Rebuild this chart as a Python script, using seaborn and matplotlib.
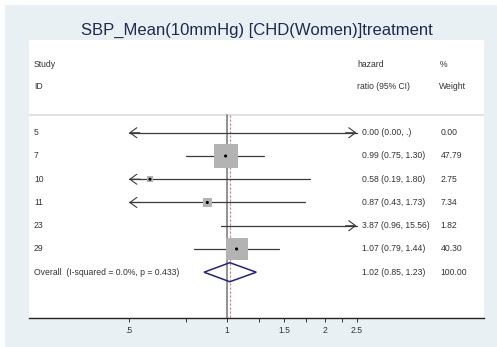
import numpy as np
import pandas as pd
import matplotlib
matplotlib.use("Agg")
import matplotlib.pyplot as plt
from matplotlib.patches import Rectangle, Polygon
from matplotlib.ticker import FixedLocator, NullLocator
import seaborn as sns

# Study-level estimates (hazard ratio, 95% CI, weight %)
study_ids = ["5", "7", "10", "11", "23", "29"]
hazard_ratio = [0.00, 0.99, 0.58, 0.87, 3.87, 1.07]
ci_low = [0.00, 0.75, 0.19, 0.43, 0.96, 0.79]
ci_high = [np.nan, 1.30, 1.80, 1.73, 15.56, 1.44]
weight_pct = [0.00, 47.79, 2.75, 7.34, 1.82, 40.30]

# Pooled estimate
overall_label = "Overall  (I-squared = 0.0%, p = 0.433)"
overall_hr = 1.02
overall_low = 0.85
overall_high = 1.23
overall_weight = 100.00

# Axis ticks
tick_values = [0.5, 0.75, 1, 1.25, 1.5, 1.75, 2, 2.25, 2.5]
tick_labels = [".5", "", "1", "", "1.5", "", "2", "", "2.5"]

title = "SBP_Mean(10mmHg) [CHD(Women)]treatment"

sns.set_style("white")
plt.rcParams["font.family"] = ["Liberation Sans", "DejaVu Sans"]

W, H = 497, 347
bg = "#e9f0f3"
fig = plt.figure(figsize=(W / 100, H / 100), dpi=100)
fig.patch.set_facecolor(bg)
# thin white margin along the top and left edges
fig.patches.append(Rectangle((0, (H - 5) / H), 1, 5 / H, transform=fig.transFigure,
                             facecolor="white", edgecolor="none", zorder=-5))
fig.patches.append(Rectangle((0, 0), 5 / W, 1, transform=fig.transFigure,
                             facecolor="white", edgecolor="none", zorder=-5))

ax = fig.add_axes([29 / W, (H - 318) / H, 455 / W, (318 - 40) / H])
ax.set_facecolor("white")

# log-scaled effect axis; plotting window 0.5 .. 2.5
ax.set_xscale("log")
ax.set_xlim(0.2465, 6.157)
ax.set_ylim(7.97, -3.99)
clip_lo, clip_hi = 0.5, 2.5

text_color = "#333333"
line_color = "#3a3a3a"
fs = 6.2
ytf = ax.get_yaxis_transform()


def put(x, y, s):
    ax.text(x, y, s, transform=ytf, fontsize=fs, color=text_color, va="center")


# header
put(0.011, -2.95, "Study")
put(0.011, -1.97, "ID")
put(0.721, -2.95, "hazard")
put(0.721, -1.97, "ratio (95% CI)")
put(0.902, -2.95, "%")
put(0.902, -1.97, "Weight")
ax.axhline(-0.76, color="#dedede", lw=1.3, zorder=1)

# reference lines
ax.plot([1, 1], [-0.76, 7.97], color="#808080", lw=1.2, zorder=2)
ax.plot([overall_hr, overall_hr], [-0.76, 7.97], color="#d07a88", lw=0.8,
        dashes=(2, 1.6), zorder=2)

arrow_kw = dict(arrowstyle="->,head_length=0.55,head_width=0.4", color=line_color,
                lw=0.8, shrinkA=0, shrinkB=0, mutation_scale=9)

df = pd.DataFrame({"study": study_ids, "hr": hazard_ratio, "lo": ci_low,
                   "hi": ci_high, "w": weight_pct})
df["row"] = np.arange(len(df), dtype=float)
overall_row = float(len(df))

# confidence intervals
for _, r in df.iterrows():
    lo = r["lo"]
    hi = r["hi"]
    left_arrow = lo < clip_lo
    right_arrow = np.isnan(hi) or hi > clip_hi
    x0 = max(lo, clip_lo)
    x1 = clip_hi if right_arrow else hi
    ax.plot([x0, x1], [r["row"], r["row"]], color=line_color, lw=0.9, zorder=3)
    if left_arrow:
        ax.annotate("", xy=(clip_lo, r["row"]), xytext=(clip_lo * 1.08, r["row"]),
                    arrowprops=arrow_kw, zorder=4)
    if right_arrow:
        ax.annotate("", xy=(clip_hi, r["row"]), xytext=(clip_hi / 1.08, r["row"]),
                    arrowprops=arrow_kw, zorder=4)
    ci_txt = f"{r['hr']:.2f} ({lo:.2f}, " + ("." if np.isnan(hi) else f"{hi:.2f}") + ")"
    put(0.011, r["row"], r["study"])
    put(0.731, r["row"], ci_txt)
    put(0.905, r["row"], f"{r['w']:.2f}")

# weighted boxes and point estimates (inside the plotting window only)
shown = df[(df["hr"] >= clip_lo) & (df["hr"] <= clip_hi) & (df["w"] > 0)].copy()
box_side_pt = 24 * 0.72 * np.sqrt(shown["w"] / df["w"].max())
sns.scatterplot(data=shown, x="hr", y="row", marker="s", s=box_side_pt ** 2,
                color="#b3b3b3", edgecolor="none", linewidth=0, legend=False,
                ax=ax, zorder=5)
sns.scatterplot(data=shown, x="hr", y="row", marker="o", s=5, color="black",
                edgecolor="none", legend=False, ax=ax, zorder=6)

# pooled diamond
dh = 0.41
ax.add_patch(Polygon([(overall_low, overall_row), (overall_hr, overall_row - dh),
                      (overall_high, overall_row), (overall_hr, overall_row + dh)],
                     closed=True, facecolor="none", edgecolor="#1f228c", lw=1.1,
                     zorder=6))
put(0.011, overall_row, overall_label)
put(0.731, overall_row, f"{overall_hr:.2f} ({overall_low:.2f}, {overall_high:.2f})")
put(0.905, overall_row, f"{overall_weight:.2f}")

# axes styling
for side in ["left", "top", "right"]:
    ax.spines[side].set_visible(False)
ax.spines["bottom"].set_color("#222222")
ax.spines["bottom"].set_linewidth(1.0)
ax.xaxis.set_major_locator(FixedLocator(tick_values))
ax.xaxis.set_minor_locator(NullLocator())
ax.set_xticklabels(tick_labels)
ax.tick_params(axis="x", bottom=True, direction="out", length=3, width=0.7,
               color="#333333", labelsize=fs, labelcolor=text_color, pad=3)
ax.set_yticks([])
ax.set_xlabel("")
ax.set_ylabel("")

fig.text(256.5 / W, (H - 30) / H, title, ha="center", va="center", fontsize=12,
         color="#1e2b4f")

fig.savefig("out.png", dpi=100, facecolor=bg)
